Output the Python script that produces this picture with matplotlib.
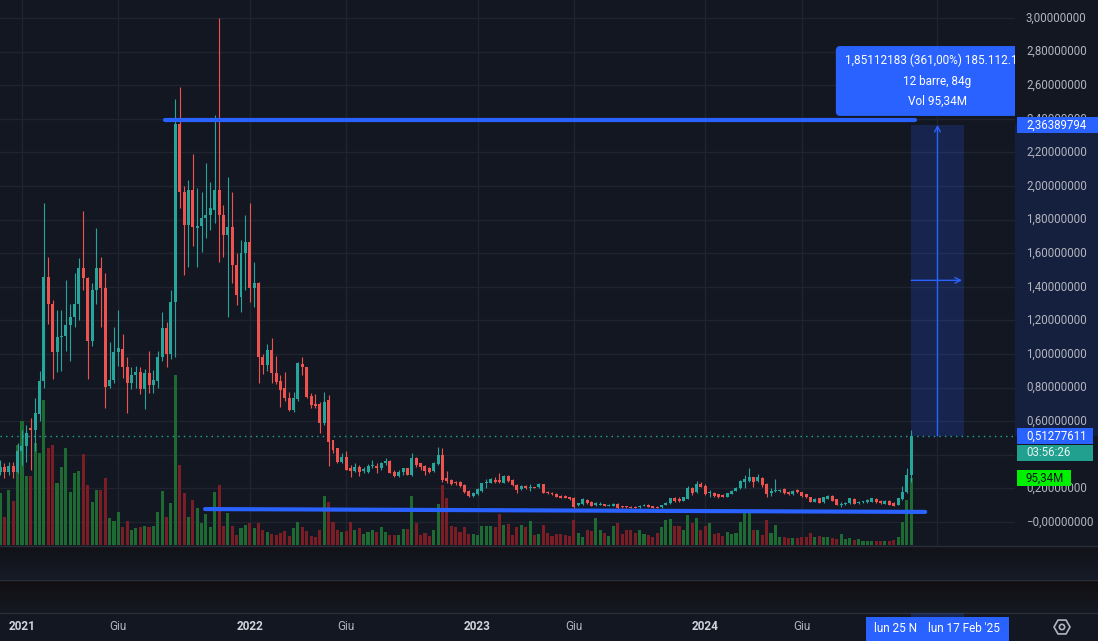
import numpy as np
import pandas as pd
import matplotlib
matplotlib.use("Agg")
import matplotlib.pyplot as plt
from matplotlib.patches import Rectangle, FancyBboxPatch, RegularPolygon, Circle
from matplotlib.lines import Line2D
from matplotlib.transforms import blended_transform_factory

plt.rcParams["font.family"] = ["Roboto", "DejaVu Sans"]

# ==============================
# data (weekly candles)
# ==============================
weeks = pd.date_range("2020-11-30", periods=209, freq="W-MON")

open_ = [
    0.30, 0.33, 0.295, 0.335, 0.30, 0.42, 0.45, 0.56, 0.55, 0.64,
    0.84, 1.46, 1.30, 1.01, 1.10, 1.11, 1.17, 1.22, 1.30, 1.51,
    1.45, 1.08, 1.38, 1.51, 1.39, 0.81, 0.845, 1.01, 1.03, 0.92,
    0.825, 0.875, 0.89, 0.79, 0.885, 0.815, 0.84, 0.985, 1.155, 1.00,
    1.31, 2.37, 1.966, 1.768, 1.976, 1.752, 1.76, 1.807, 1.827, 1.857,
    1.976, 1.827, 1.708, 1.758, 1.53, 1.341, 1.60, 1.669, 1.39, 1.42,
    0.984, 0.935, 1.024, 0.887, 0.84, 0.796, 0.736, 0.667, 0.73, 0.94,
    0.925, 0.75, 0.70, 0.70, 0.587, 0.726, 0.488, 0.439, 0.359, 0.389,
    0.323, 0.306, 0.33, 0.306, 0.30, 0.333, 0.333, 0.324, 0.353, 0.363,
    0.30, 0.274, 0.30, 0.32, 0.28, 0.379, 0.35, 0.333, 0.323, 0.304,
    0.347, 0.399, 0.26, 0.25, 0.24, 0.24, 0.22, 0.186, 0.156, 0.166,
    0.186, 0.23, 0.234, 0.25, 0.25, 0.234, 0.274, 0.25, 0.22, 0.194,
    0.214, 0.204, 0.207, 0.206, 0.226, 0.18, 0.174, 0.166, 0.155, 0.155,
    0.148, 0.145, 0.099, 0.107, 0.131, 0.121, 0.101, 0.101, 0.107, 0.095,
    0.095, 0.107, 0.095, 0.093, 0.091, 0.091, 0.087, 0.097, 0.101, 0.093,
    0.091, 0.087, 0.101, 0.111, 0.141, 0.139, 0.127, 0.137, 0.20, 0.178,
    0.226, 0.214, 0.170, 0.174, 0.164, 0.16, 0.15, 0.166, 0.184, 0.20,
    0.24, 0.246, 0.266, 0.246, 0.26, 0.226, 0.17, 0.184, 0.186, 0.194,
    0.18, 0.165, 0.19, 0.176, 0.165, 0.147, 0.121, 0.141, 0.117, 0.137,
    0.155, 0.135, 0.103, 0.105, 0.111, 0.137, 0.111, 0.117, 0.117, 0.119,
    0.137, 0.125, 0.107, 0.125, 0.115, 0.101, 0.135, 0.181, 0.28,
]
high = [
    0.37, 0.35, 0.36, 0.36, 0.47, 0.55, 0.58, 0.62, 0.74, 0.90,
    1.90, 1.58, 1.32, 1.26, 1.26, 1.44, 1.30, 1.48, 1.57, 1.85,
    1.46, 1.42, 1.75, 1.58, 1.48, 1.07, 1.16, 1.26, 1.12, 0.98,
    0.92, 0.93, 0.92, 0.91, 1.02, 0.905, 1.02, 1.25, 1.19, 1.38,
    2.52, 2.587, 2.00, 2.036, 2.19, 1.986, 1.966, 2.135, 2.026, 2.423,
    2.998, 1.887, 2.055, 1.966, 1.60, 1.679, 1.827, 1.897, 1.549, 1.43,
    1.00, 1.06, 1.093, 0.99, 0.875, 0.89, 0.776, 0.776, 0.954, 0.98,
    0.925, 0.766, 0.76, 0.716, 0.776, 0.756, 0.488, 0.439, 0.409, 0.424,
    0.339, 0.349, 0.339, 0.329, 0.343, 0.369, 0.349, 0.359, 0.379, 0.369,
    0.31, 0.31, 0.324, 0.32, 0.409, 0.389, 0.353, 0.339, 0.33, 0.359,
    0.448, 0.438, 0.306, 0.254, 0.244, 0.244, 0.224, 0.19, 0.178, 0.20,
    0.234, 0.254, 0.26, 0.266, 0.29, 0.28, 0.28, 0.256, 0.226, 0.22,
    0.22, 0.226, 0.21, 0.23, 0.226, 0.184, 0.176, 0.17, 0.162, 0.158,
    0.15, 0.151, 0.115, 0.141, 0.135, 0.125, 0.121, 0.121, 0.11, 0.105,
    0.111, 0.111, 0.097, 0.097, 0.093, 0.093, 0.099, 0.107, 0.105, 0.095,
    0.093, 0.103, 0.119, 0.145, 0.151, 0.151, 0.151, 0.214, 0.206, 0.246,
    0.238, 0.226, 0.19, 0.178, 0.168, 0.164, 0.174, 0.19, 0.208, 0.25,
    0.28, 0.32, 0.27, 0.286, 0.266, 0.23, 0.20, 0.254, 0.194, 0.20,
    0.184, 0.19, 0.194, 0.18, 0.168, 0.15, 0.141, 0.145, 0.151, 0.161,
    0.159, 0.137, 0.121, 0.121, 0.145, 0.141, 0.125, 0.127, 0.135, 0.145,
    0.141, 0.129, 0.129, 0.129, 0.119, 0.145, 0.214, 0.32, 0.545,
]
low = [
    0.28, 0.26, 0.28, 0.26, 0.29, 0.34, 0.36, 0.31, 0.42, 0.60,
    0.80, 1.18, 0.85, 0.89, 0.90, 1.02, 0.96, 1.16, 1.20, 1.38,
    0.85, 1.05, 1.30, 1.16, 0.68, 0.80, 0.83, 0.93, 0.86, 0.65,
    0.79, 0.80, 0.76, 0.67, 0.77, 0.77, 0.80, 0.96, 0.92, 0.97,
    0.98, 1.87, 1.47, 1.52, 1.64, 1.52, 1.61, 1.69, 1.74, 1.78,
    1.549, 1.579, 1.222, 1.42, 1.292, 1.252, 1.381, 1.311, 1.28, 0.83,
    0.88, 0.90, 0.825, 0.82, 0.686, 0.72, 0.66, 0.655, 0.72, 0.875,
    0.737, 0.676, 0.676, 0.527, 0.577, 0.333, 0.41, 0.35, 0.35, 0.31,
    0.27, 0.30, 0.275, 0.294, 0.294, 0.324, 0.294, 0.31, 0.34, 0.29,
    0.27, 0.27, 0.28, 0.28, 0.274, 0.33, 0.31, 0.28, 0.29, 0.30,
    0.34, 0.24, 0.234, 0.22, 0.22, 0.206, 0.174, 0.15, 0.15, 0.16,
    0.18, 0.20, 0.23, 0.23, 0.23, 0.23, 0.24, 0.214, 0.174, 0.19,
    0.194, 0.186, 0.20, 0.202, 0.17, 0.166, 0.16, 0.146, 0.143, 0.143,
    0.133, 0.081, 0.095, 0.103, 0.107, 0.093, 0.095, 0.099, 0.093, 0.093,
    0.093, 0.075, 0.085, 0.085, 0.083, 0.083, 0.085, 0.095, 0.089, 0.083,
    0.083, 0.085, 0.099, 0.109, 0.121, 0.121, 0.123, 0.135, 0.16, 0.174,
    0.206, 0.16, 0.15, 0.151, 0.145, 0.148, 0.148, 0.164, 0.182, 0.196,
    0.20, 0.24, 0.21, 0.24, 0.21, 0.147, 0.155, 0.18, 0.18, 0.165,
    0.163, 0.16, 0.17, 0.15, 0.143, 0.119, 0.117, 0.111, 0.115, 0.135,
    0.123, 0.099, 0.091, 0.101, 0.109, 0.105, 0.109, 0.115, 0.115, 0.117,
    0.115, 0.109, 0.105, 0.099, 0.093, 0.099, 0.133, 0.175, 0.24,
]
close = [
    0.33, 0.295, 0.335, 0.30, 0.42, 0.45, 0.53, 0.55, 0.65, 0.84,
    1.46, 1.30, 1.01, 1.10, 1.11, 1.17, 1.22, 1.30, 1.51, 1.45,
    1.08, 1.38, 1.51, 1.39, 0.805, 0.845, 1.01, 1.034, 0.92, 0.825,
    0.875, 0.89, 0.79, 0.885, 0.815, 0.845, 0.985, 1.155, 1.00, 1.31,
    2.37, 1.966, 1.768, 1.976, 1.758, 1.76, 1.807, 1.827, 1.867, 1.976,
    1.827, 1.708, 1.758, 1.53, 1.351, 1.60, 1.669, 1.39, 1.42, 0.984,
    0.935, 1.024, 0.887, 0.835, 0.786, 0.736, 0.667, 0.736, 0.944, 0.925,
    0.742, 0.696, 0.69, 0.587, 0.717, 0.478, 0.429, 0.359, 0.389, 0.31,
    0.304, 0.33, 0.30, 0.314, 0.333, 0.34, 0.324, 0.353, 0.363, 0.294,
    0.274, 0.30, 0.32, 0.28, 0.379, 0.339, 0.33, 0.305, 0.30, 0.353,
    0.399, 0.25, 0.244, 0.226, 0.23, 0.214, 0.18, 0.156, 0.174, 0.196,
    0.23, 0.24, 0.254, 0.236, 0.236, 0.274, 0.246, 0.218, 0.19, 0.216,
    0.20, 0.208, 0.205, 0.226, 0.174, 0.17, 0.164, 0.15, 0.145, 0.145,
    0.137, 0.091, 0.111, 0.135, 0.111, 0.095, 0.111, 0.109, 0.095, 0.103,
    0.107, 0.081, 0.087, 0.087, 0.085, 0.085, 0.097, 0.103, 0.091, 0.085,
    0.085, 0.101, 0.115, 0.141, 0.127, 0.127, 0.147, 0.20, 0.174, 0.226,
    0.206, 0.166, 0.18, 0.155, 0.147, 0.15, 0.17, 0.186, 0.204, 0.246,
    0.256, 0.27, 0.24, 0.266, 0.22, 0.167, 0.186, 0.188, 0.19, 0.17,
    0.167, 0.186, 0.176, 0.155, 0.147, 0.121, 0.137, 0.115, 0.147, 0.157,
    0.127, 0.101, 0.105, 0.113, 0.141, 0.107, 0.121, 0.123, 0.131, 0.141,
    0.117, 0.111, 0.125, 0.101, 0.095, 0.141, 0.181, 0.28, 0.51277611,
]
# volume in millions
volume = [
    74, 40, 78, 63, 142, 176, 98, 98, 145, 131,
    206, 138, 142, 88, 111, 138, 75, 102, 105, 129,
    85, 61, 78, 78, 95, 38, 34, 47, 26, 34,
    21, 24, 26, 27, 26, 27, 47, 77, 40, 60,
    242, 114, 74, 40, 64, 53, 31, 44, 26, 75,
    85, 27, 46, 27, 14, 24, 28, 31, 24, 31,
    21, 18, 16, 14, 17, 20, 13, 24, 33, 26,
    20, 13, 11, 21, 70, 61, 33, 21, 18, 20,
    33, 21, 24, 16, 18, 21, 18, 26, 18, 14,
    14, 14, 23, 23, 70, 31, 14, 17, 13, 22,
    59, 85, 67, 27, 25, 19, 26, 16, 16, 14,
    27, 27, 27, 26, 44, 28, 30, 14, 26, 28,
    26, 34, 14, 16, 28, 17, 13, 16, 16, 14,
    13, 36, 17, 12, 22, 20, 39, 21, 17, 13,
    27, 31, 16, 21, 21, 17, 21, 16, 14, 12,
    17, 26, 36, 37, 27, 27, 22, 43, 31, 38,
    22, 27, 31, 16, 17, 13, 19, 16, 17, 33,
    45, 45, 21, 21, 14, 36, 17, 28, 12, 11,
    10, 10, 10, 12, 11, 17, 12, 13, 11, 12,
    10, 8, 16, 8, 10, 7, 8, 5, 5, 6,
    5, 6, 6, 6, 7, 12, 33, 64, 95.34,
]

# 0,40 sits under the countdown label in the screenshot, so it is not listed
price_ticks = [0.0, 0.2, 0.6, 0.8, 1.0, 1.2, 1.4, 1.6, 1.8,
               2.0, 2.2, 2.4, 2.6, 2.8, 3.0]
grid_prices = [0.0, 0.2, 0.4, 0.6, 0.8, 1.0, 1.2, 1.4, 1.6, 1.8,
               2.0, 2.2, 2.4, 2.6, 2.8, 3.0]
time_tick_dates = ["2021-01-04", "2021-06-07", "2022-01-03", "2022-06-06",
                   "2023-01-02", "2023-06-05", "2024-01-01", "2024-06-03"]
time_tick_labels = ["2021", "Giu", "2022", "Giu", "2023", "Giu", "2024", "Giu"]
extra_grid_date = "2025-01-06"   # label hidden under the blue date box

last_price = 0.51277611
target_price = 2.36389794
measure_bars = 12
info_lines = ["1,85112183 (361,00%) 185.112.1", "12 barre, 84g", "Vol 95,34M"]
date_labels = ["lun 25 N", "lun 17 Feb '25"]

# drawn trend lines: (week index, price)
top_line = [(37.6, 2.393), (208.9, 2.393)]
bottom_line = [(46.8, 0.077), (211.2, 0.060)]

# ==============================
# style
# ==============================
BG = "#131722"
GRID = "#20242f"
UP = "#26a69a"
DOWN = "#ef5350"
VOL_UP = "#1d6a33"
VOL_DOWN = "#7b1d25"
BLUE = "#2962ff"
TXT = "#b2b5be"

W, H = 1098, 641
def fx(px):
    return px / W
def fy(py):
    return 1 - py / H

fig = plt.figure(figsize=(W / 100, H / 100), dpi=100, facecolor=BG)

rect = [0, fy(545), fx(1015), 545 / H]
ax_vol = fig.add_axes(rect)
ax = fig.add_axes(rect, sharex=ax_vol)
ax_vol.set_zorder(1)
ax.set_zorder(2)
ax.patch.set_visible(False)
ax_vol.set_facecolor(BG)
for a in (ax, ax_vol):
    a.set_axis_off()

x = np.arange(len(weeks))
o = np.array(open_)
c = np.array(close)
h = np.array(high)
l = np.array(low)
v = np.array(volume)
up = c >= o

ax.set_xlim(-0.02, 231.7)
ax.set_ylim(-0.1369, 3.107)
ax_vol.set_ylim(0, 775)

# grid
def week_pos(d):
    return (pd.Timestamp(d) - weeks[0]).days / 7

grid_x = [week_pos(d) for d in time_tick_dates + [extra_grid_date]]
for gx in grid_x:
    ax_vol.axvline(gx, color=GRID, lw=1, zorder=0)
hgrid_tr = blended_transform_factory(ax_vol.transAxes, ax.transData)
for p in grid_prices:
    ax_vol.plot([0, 1], [p, p], color=GRID, lw=1, transform=hgrid_tr, zorder=0)

# volume
ax_vol.bar(x, v, width=0.7, color=np.where(up, VOL_UP, VOL_DOWN), zorder=2)

# candles
cols = np.where(up, UP, DOWN)
ax.vlines(x, l, h, colors=cols, lw=0.8, zorder=3)
body_lo = np.minimum(o, c)
body_h = np.maximum(np.abs(c - o), 0.006)
ax.bar(x, body_h, bottom=body_lo, width=0.68, color=cols, zorder=4)

# last price line
ax.axhline(last_price, color=UP, lw=1, ls=(0, (1, 3)), zorder=3)

# trend lines
for seg in (top_line, bottom_line):
    (x0, y0), (x1, y1) = seg
    ax.plot([x0, x1], [y0, y1], color=BLUE, lw=3, solid_capstyle="round", zorder=6)

# measure tool
m_x0 = x[-1]
m_x1 = x[-1] + measure_bars
m_mid = (m_x0 + m_x1) / 2
ax.add_patch(Rectangle((m_x0, last_price), measure_bars, target_price - last_price,
                       facecolor=BLUE, alpha=0.2, edgecolor="none", zorder=5))
ax.annotate("", xy=(m_mid, target_price), xytext=(m_mid, last_price),
            arrowprops=dict(arrowstyle="->", color=BLUE, lw=1, shrinkA=0, shrinkB=0,
                            mutation_scale=10), zorder=6)
y_mid = (last_price + target_price) / 2
ax.annotate("", xy=(m_x1 - 0.4, y_mid), xytext=(m_x0, y_mid),
            arrowprops=dict(arrowstyle="->", color=BLUE, lw=1, shrinkA=0, shrinkB=0,
                            mutation_scale=10), zorder=6)

# info label above the measure box
box = FancyBboxPatch((190.8, 2.417), 46.6, 0.416,
                     boxstyle="round,pad=0,rounding_size=1.0",
                     mutation_aspect=0.026, facecolor=BLUE, edgecolor="none", zorder=7)
ax.add_patch(box)
ax.text(192.8, 2.75, info_lines[0], color="white", fontsize=8.5, va="center",
        ha="left", zorder=8, clip_on=True)
ax.text(m_mid, 2.619, info_lines[1], color="white", fontsize=8.5, va="center",
        ha="center", zorder=8, clip_on=True)
ax.text(m_mid, 2.506, info_lines[2], color="white", fontsize=8.5, va="center",
        ha="center", zorder=8, clip_on=True)

# ==============================
# price scale (right)
# ==============================
tr_r = blended_transform_factory(fig.transFigure, ax.transData)
tr_rv = blended_transform_factory(fig.transFigure, ax_vol.transData)
fig.add_artist(Rectangle((fx(1015), last_price), fx(1098) - fx(1015),
                         target_price - last_price, transform=tr_r,
                         facecolor=BLUE, alpha=0.13, edgecolor="none", zorder=3))
for p in price_ticks:
    lab = f"{p:.8f}".replace(".", ",")
    if p == 0:
        lab = "\u2212" + lab
    fig.text(fx(1026), p, lab, transform=tr_r, color=TXT, fontsize=8.3,
             va="center", ha="left", zorder=4)

bh = 0.096
def scale_label(yv, text, fc, tc, tr, right=1093, hh=bh):
    fig.add_artist(Rectangle((fx(1017), yv - hh / 2), fx(right) - fx(1017), hh,
                             transform=tr, facecolor=fc, edgecolor="none", zorder=6))
    fig.text(fx(1026), yv, text, transform=tr, color=tc, fontsize=8.3,
             va="center", ha="left", zorder=7)

scale_label(target_price, "2,36389794", BLUE, "white", tr_r, right=1098)
scale_label(last_price, "0,51277611", BLUE, "white", tr_r)
scale_label(last_price - 0.1, "03:56:26", "#22a08f", "#e8f5f3", tr_r)
scale_label(volume[-1], "95,34M", "#00f000", "#131722", tr_rv, right=1071, hh=22.8)

# ==============================
# lower panes and time scale
# ==============================
def gradient_pane(y_top, y_bot, c_top, c_bot):
    pa = fig.add_axes([0, fy(y_bot), 1, (y_bot - y_top) / H], zorder=0)
    ct = np.array(matplotlib.colors.to_rgb(c_top))
    cb = np.array(matplotlib.colors.to_rgb(c_bot))
    t = np.linspace(0, 1, 32)[:, None, None]
    img = ct * (1 - t) + cb * t
    pa.imshow(img, aspect="auto", extent=[0, 1, 0, 1])
    pa.set_axis_off()

gradient_pane(546, 579, "#121218", "#161b27")
gradient_pane(580, 613, "#120f12", "#151922")
for yy in (546, 579.5, 613):
    fig.add_artist(Line2D([0, 1], [fy(yy), fy(yy)], color="#2a2e39", lw=1,
                          transform=fig.transFigure, zorder=2))

tr_t = blended_transform_factory(ax.transData, fig.transFigure)
for d, lab in zip(time_tick_dates, time_tick_labels):
    is_year = lab.isdigit()
    fig.text(week_pos(d), fy(627), lab, transform=tr_t, ha="center", va="center",
             color="#d1d4dc" if is_year else TXT, fontsize=8.5,
             fontweight="bold" if is_year else "normal", zorder=3)

# measured range on time scale + date labels
fig.add_artist(Rectangle((m_x0, 0), measure_bars, fy(613), transform=tr_t,
                         facecolor=BLUE, alpha=0.2, edgecolor="none", zorder=4))
fig.add_artist(Rectangle((m_x0 - 10.4, 0), m_x1 - m_x0 + 20.8, fy(616.5),
                         transform=tr_t, facecolor=BLUE, edgecolor="none", zorder=10))
fig.text(m_x0 - 8.4, fy(628), date_labels[0], transform=tr_t,
         ha="left", va="center", color="white", fontsize=8.5, zorder=11)
fig.text(m_x1, fy(628), date_labels[1], transform=tr_t,
         ha="center", va="center", color="white", fontsize=8.5, zorder=13)

# settings icon
ax_icon = fig.add_axes([fx(1050), fy(639), fx(24), 24 / H], zorder=5)
ax_icon.add_patch(RegularPolygon((0, 0), 6, radius=1.0, orientation=np.pi / 6,
                                 fill=False, edgecolor=TXT, lw=1.2))
ax_icon.add_patch(Circle((0, 0), 0.33, fill=False, edgecolor=TXT, lw=1.2))
ax_icon.set_xlim(-1.5, 1.5)
ax_icon.set_ylim(-1.5, 1.5)
ax_icon.set_aspect("equal")
ax_icon.set_axis_off()

fig.savefig("out.png", dpi=100, facecolor=BG)
